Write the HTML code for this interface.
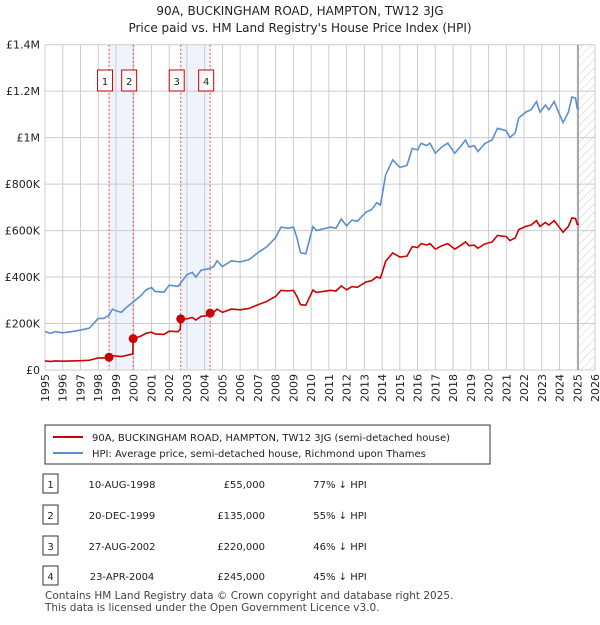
<!DOCTYPE html>
<html><head><meta charset="utf-8"><style>
body{margin:0;background:#fff;font-family:"Liberation Sans","DejaVu Sans",sans-serif;}
svg text{font-family:"DejaVu Sans","Liberation Sans",sans-serif;}
</style></head><body>
<svg width="600" height="620" xmlns="http://www.w3.org/2000/svg">
<defs><pattern id="hatch" width="6" height="6" patternUnits="userSpaceOnUse" patternTransform="rotate(45)"><line x1="0" y1="0" x2="0" y2="6" stroke="#ccc" stroke-width="1"/></pattern></defs>
<text x="300" y="15" text-anchor="middle" font-size="12" fill="#222">90A, BUCKINGHAM ROAD, HAMPTON, TW12 3JG</text>
<text x="300" y="32" text-anchor="middle" font-size="12" fill="#222">Price paid vs. HM Land Registry's House Price Index (HPI)</text>
<g id="plot"></g>
<rect x="45" y="425" width="445" height="39" fill="#fff" stroke="#333"/>
<line x1="53" y1="437" x2="83" y2="437" stroke="#cc0000" stroke-width="2"/>
<text x="92" y="441" font-size="10" fill="#222">90A, BUCKINGHAM ROAD, HAMPTON, TW12 3JG (semi-detached house)</text>
<line x1="53" y1="453" x2="83" y2="453" stroke="#5b8fd0" stroke-width="2"/>
<text x="92" y="457" font-size="10" fill="#222">HPI: Average price, semi-detached house, Richmond upon Thames</text>
<g id="table" font-size="10" fill="#222"></g>
<text x="45" y="599" font-size="10.5" fill="#444">Contains HM Land Registry data © Crown copyright and database right 2025.</text>
<text x="45" y="611" font-size="10.5" fill="#444">This data is licensed under the Open Government Licence v3.0.</text>
</svg>
<script>
const hpiT=[1995.0,1995.3,1995.6,1996.0,1996.5,1997.0,1997.5,1998.0,1998.3,1998.6,1998.8,1999.0,1999.3,1999.6,2000.0,2000.4,2000.7,2001.0,2001.2,2001.7,2002.0,2002.5,2003.0,2003.3,2003.5,2003.8,2004.2,2004.5,2004.7,2005.0,2005.5,2006.0,2006.5,2007.0,2007.5,2008.0,2008.3,2008.7,2009.0,2009.2,2009.4,2009.7,2010.1,2010.3,2011.1,2011.4,2011.7,2012.0,2012.3,2012.6,2013.1,2013.4,2013.7,2013.9,2014.0,2014.2,2014.6,2015.0,2015.4,2015.7,2016.0,2016.2,2016.5,2016.7,2017.0,2017.4,2017.7,2018.1,2018.4,2018.7,2018.9,2019.2,2019.4,2019.8,2020.2,2020.5,2021.0,2021.2,2021.5,2021.7,2022.1,2022.4,2022.7,2022.9,2023.2,2023.4,2023.7,2024.0,2024.2,2024.5,2024.7,2024.9,2025.0,2025.1];
const hpiV=[165,158,165,160,165,172,180,222,222,235,262,255,248,270,295,320,345,355,338,335,365,360,410,420,400,430,435,445,470,445,470,465,475,505,530,570,615,610,615,570,505,500,617,600,615,610,650,620,645,640,680,690,720,710,750,840,904,872,880,954,947,976,966,976,933,962,976,933,960,990,960,965,940,975,990,1040,1030,1000,1020,1085,1110,1120,1155,1110,1140,1120,1155,1100,1065,1110,1175,1170,1125,1125];
const priceT=[1995.0,1995.3,1995.6,1996.0,1996.5,1997.0,1997.5,1998.0,1998.3,1998.61,1998.8,1999.0,1999.3,1999.6,1999.95,1999.97,2000.4,2000.7,2001.0,2001.2,2001.7,2002.0,2002.5,2002.62,2002.65,2003.0,2003.3,2003.5,2003.8,2004.2,2004.31,2004.5,2004.7,2005.0,2005.5,2006.0,2006.5,2007.0,2007.5,2008.0,2008.3,2008.7,2009.0,2009.2,2009.4,2009.7,2010.1,2010.3,2011.1,2011.4,2011.7,2012.0,2012.3,2012.6,2013.1,2013.4,2013.7,2013.9,2014.0,2014.2,2014.6,2015.0,2015.4,2015.7,2016.0,2016.2,2016.5,2016.7,2017.0,2017.4,2017.7,2018.1,2018.4,2018.7,2018.9,2019.2,2019.4,2019.8,2020.2,2020.5,2021.0,2021.2,2021.5,2021.7,2022.1,2022.4,2022.7,2022.9,2023.2,2023.4,2023.7,2024.0,2024.2,2024.5,2024.7,2024.9,2025.0,2025.1];
const priceV=[39,37,39,38,39,40,42,52,52,55,61,60,58,63,69,135,146,158,163,155,153,167,165,175,220,220,226,215,231,234,245,248,262,248,262,259,265,281,295,317,343,340,343,317,281,279,344,334,343,340,362,345,359,356,379,384,401,395,418,468,504,486,490,531,527,544,538,544,520,536,544,520,535,551,535,537,524,543,551,579,574,557,568,604,618,624,643,618,635,624,643,613,593,618,654,652,627,627];
const saleT=[1998.61,1999.97,2002.65,2004.31];
const saleV=[55,135,220,245];
const saleLabels=["1","2","3","4"];
const saleDates=["10-AUG-1998","20-DEC-1999","27-AUG-2002","23-APR-2004"];
const salePrices=["£55,000","£135,000","£220,000","£245,000"];
const saleHpi=["77% ↓ HPI","55% ↓ HPI","46% ↓ HPI","45% ↓ HPI"];
const yTicks=[0,200,400,600,800,1000,1200,1400];
const yTickLabels=["£0","£200K","£400K","£600K","£800K","£1M","£1.2M","£1.4M"];
const xYears=[1995,1996,1997,1998,1999,2000,2001,2002,2003,2004,2005,2006,2007,2008,2009,2010,2011,2012,2013,2014,2015,2016,2017,2018,2019,2020,2021,2022,2023,2024,2025,2026];
const dataEnd=2025.05;

const NS="http://www.w3.org/2000/svg";
const L=45,R=595,T=44.7,B=370;
const X=t=>L+(t-1995)/31*(R-L);
const Y=v=>B-v/1400*(B-T);
const plot=document.getElementById('plot');
function mk(tag,attrs,parent){const e=document.createElementNS(NS,tag);for(const k in attrs)e.setAttribute(k,attrs[k]);(parent||plot).appendChild(e);return e;}
for(let i=0;i<4;i+=2){const r=mk('rect',{x:X(saleT[i]),y:T,width:X(saleT[i+1])-X(saleT[i]),height:B-T,fill:'#eef3fc'});

}
const h=mk('rect',{x:X(dataEnd),y:T,width:R-X(dataEnd),height:B-T,fill:'url(#hatch)'});


yTicks.forEach((v,i)=>{const g=mk('line',{x1:L,x2:R,y1:Y(v),y2:Y(v),stroke:'#ccc','stroke-width':1});


const t=mk('text',{x:L-5,y:Y(v)+4,'text-anchor':'end','font-size':11,fill:'#222'});t.textContent=yTickLabels[i];

});
xYears.forEach(y=>{const g=mk('line',{x1:X(y),x2:X(y),y1:T,y2:B,stroke:'#ccc','stroke-width':1});


const t=mk('text',{x:0,y:0,'text-anchor':'end','font-size':11,fill:'#222',transform:`translate(${X(y)+4},${B+4}) rotate(-90)`});t.textContent=y;

});
const dl=mk('line',{x1:X(dataEnd),x2:X(dataEnd),y1:T,y2:B,stroke:'#888','stroke-width':1.2});


saleT.forEach((t,i)=>{const l=mk('line',{x1:X(t),x2:X(t),y1:T,y2:B,stroke:'#e05050','stroke-width':1,'stroke-dasharray':'2,2'});


const bx=mk('rect',{x:X(t)-11.5,y:70,width:15,height:21,fill:'#fff',stroke:'#cc0000'});


const tx=mk('text',{x:X(t)-4,y:85,'text-anchor':'middle','font-size':10,fill:'#222'});tx.textContent=saleLabels[i];

});
function line(ts,vs,c,name){const p=mk('polyline',{points:ts.map((t,i)=>X(t)+','+Y(vs[i])).join(' '),fill:'none',stroke:c,'stroke-width':1.6});

}
line(hpiT,hpiV,'#5b8fd0','hpi-line');
line(priceT,priceV,'#cc0000','price-line');
saleT.forEach((t,i)=>{const c=mk('circle',{cx:X(t),cy:Y(saleV[i]),r:4.5,fill:'#cc0000'});

});
const tb=document.getElementById('table');
const rowsY=[484,515,546,576];
rowsY.forEach((y,i)=>{const r=mk('rect',{x:43,y:y-10,width:15,height:19,fill:'#fff',stroke:'#333'},tb);


const cells=[[50.5,saleLabels[i],'middle'],[122,saleDates[i],'middle'],[265,salePrices[i],'end'],[340,saleHpi[i],'middle']];
cells.forEach(c=>{const t=mk('text',{x:c[0],y:y+4,'text-anchor':c[2]},tb);t.textContent=c[1];

});});
</script>
</body></html>
